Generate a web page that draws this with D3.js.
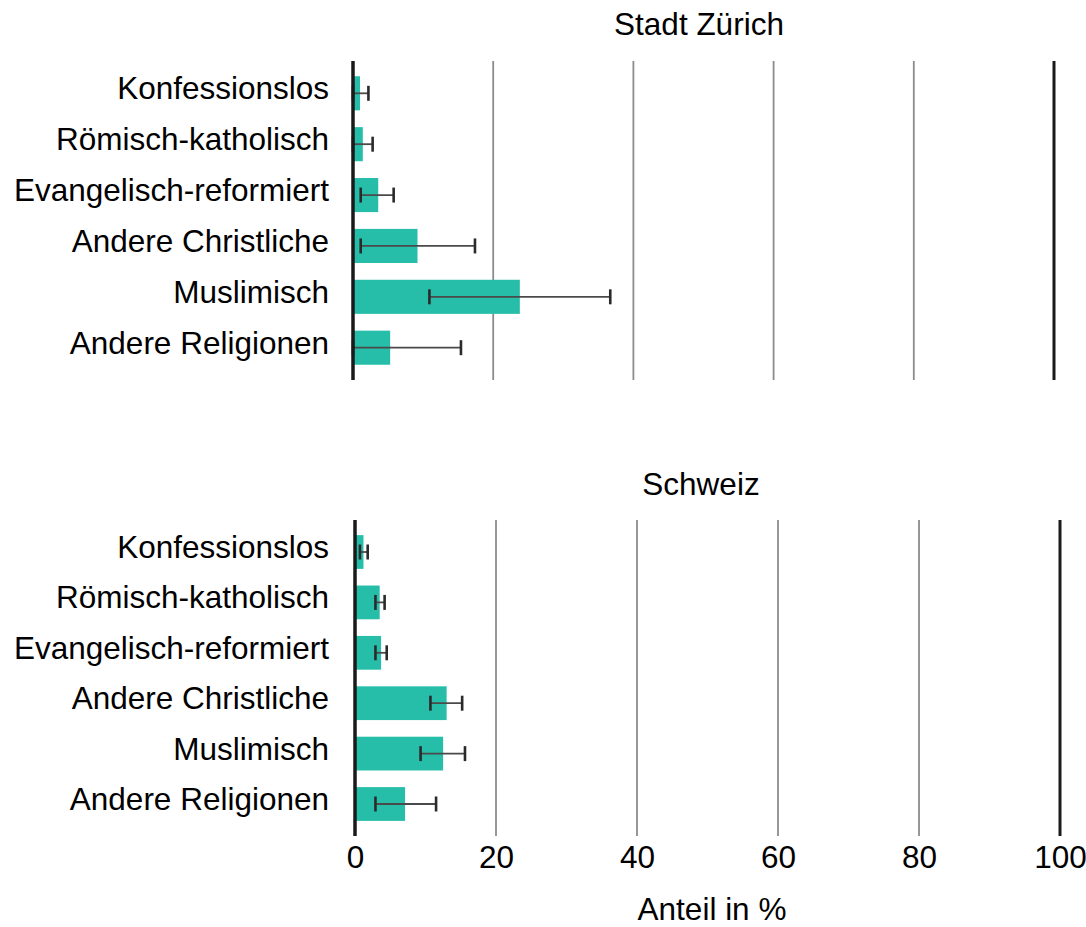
<!DOCTYPE html>
<html>
<head>
<meta charset="utf-8">
<script src="https://cdn.jsdelivr.net/npm/d3@7"></script>
<style>
  html, body { margin: 0; padding: 0; background: #fff; }
  svg { display: block; }
  text { font-family: "Liberation Sans", Arial, sans-serif; fill: #000; }
</style>
</head>
<body>
<svg id="chart" width="1086" height="927"></svg>
<script>
const categories = ["Konfessionslos", "Römisch-katholisch", "Evangelisch-reformiert", "Andere Christliche", "Muslimisch", "Andere Religionen"];
const panelTitles = ["Stadt Zürich", "Schweiz"];
const zurichValues = [1.0, 1.4, 3.6, 9.2, 23.8, 5.3];
const zurichLower  = [0, 0, 1.1, 1.1, 10.9, 0];
const zurichUpper  = [2.2, 2.8, 5.8, 17.4, 36.7, 15.4];
const schweizValues = [1.2, 3.5, 3.7, 13.0, 12.5, 7.1];
const schweizLower  = [0.7, 2.9, 2.9, 10.7, 9.3, 2.9];
const schweizUpper  = [1.8, 4.2, 4.5, 15.2, 15.6, 11.5];
const tickValues = [0, 20, 40, 60, 80, 100];
const xAxisTitle = "Anteil in %";

const svg = d3.select("#chart");
const FONT = 31.5;
const barColor = "#26bea9";

const panels = [
  { title: panelTitles[0], values: zurichValues, lower: zurichLower, upper: zurichUpper,
    x0: 353, x1: 1054, y0: 61, y1: 380, titleX: 699, titleY: 35, showTicks: false },
  { title: panelTitles[1], values: schweizValues, lower: schweizLower, upper: schweizUpper,
    x0: 355, x1: 1060, y0: 520, y1: 836, titleX: 701, titleY: 495, showTicks: true }
];

panels.forEach(p => {
  const data = categories.map((c, i) => ({ cat: c, v: p.values[i], lo: p.lower[i], hi: p.upper[i] }));
  const x = d3.scaleLinear().domain([0, 100]).range([p.x0, p.x1]);
  const y = d3.scaleBand().domain(categories).range([p.y0, p.y1]).paddingInner(0.33).paddingOuter(0.3);
  const g = svg.append("g");

  // gridlines
  g.selectAll("line.grid").data(tickValues.filter(t => t > 0 && t < 100)).join("line")
    .attr("class", "grid")
    .attr("x1", d => x(d)).attr("x2", d => x(d))
    .attr("y1", p.y0).attr("y2", p.y1)
    .attr("stroke", "#8c8c8c").attr("stroke-width", 1.8);

  // bars
  g.selectAll("rect.bar").data(data).join("rect")
    .attr("class", "bar")
    .attr("x", x(0)).attr("y", d => y(d.cat))
    .attr("width", d => x(d.v) - x(0)).attr("height", y.bandwidth())
    .attr("fill", barColor);

  // error bars
  const cap = 15;
  const eb = g.selectAll("g.err").data(data).join("g").attr("class", "err")
    .attr("transform", d => `translate(0,${y(d.cat) + y.bandwidth() / 2})`);
  eb.append("line")
    .attr("x1", d => x(d.lo)).attr("x2", d => x(d.hi))
    .attr("y1", 0).attr("y2", 0)
    .attr("stroke", "#4a4a4a").attr("stroke-width", 1.8);
  eb.append("line")
    .attr("x1", d => x(d.lo)).attr("x2", d => x(d.lo))
    .attr("y1", -cap / 2).attr("y2", cap / 2)
    .attr("stroke", "#2a2a2a").attr("stroke-width", 2.6);
  eb.append("line")
    .attr("x1", d => x(d.hi)).attr("x2", d => x(d.hi))
    .attr("y1", -cap / 2).attr("y2", cap / 2)
    .attr("stroke", "#2a2a2a").attr("stroke-width", 2.6);

  // 0 and 100 lines
  g.selectAll("line.edge").data([0, 100]).join("line")
    .attr("class", "edge")
    .attr("x1", d => x(d)).attr("x2", d => x(d))
    .attr("y1", p.y0).attr("y2", p.y1)
    .attr("stroke", "#1a1a1a").attr("stroke-width", d => d === 0 ? 3.5 : 3);

  // category labels
  g.selectAll("text.cat").data(categories).join("text")
    .attr("class", "cat")
    .attr("x", 329)
    .attr("y", d => y(d) + y.bandwidth() / 2 + 6)
    .attr("text-anchor", "end")
    .attr("font-size", FONT)
    .text(d => d);

  // title
  g.append("text")
    .attr("x", p.titleX).attr("y", p.titleY)
    .attr("text-anchor", "middle").attr("font-size", FONT)
    .text(p.title);

  if (p.showTicks) {
    const axis = d3.axisBottom(x).tickValues(tickValues).tickSize(0).tickPadding(0).tickFormat(d3.format("d"));
    const ax = svg.append("g").attr("transform", `translate(0,868)`).call(axis);
    ax.select(".domain").remove();
    ax.selectAll("text")
      .attr("dy", 0).attr("y", 0)
      .attr("font-size", FONT)
      .attr("font-family", "Liberation Sans, Arial, sans-serif")
      .attr("fill", "#000");
    svg.append("text")
      .attr("x", 712).attr("y", 920)
      .attr("text-anchor", "middle").attr("font-size", FONT)
      .text(xAxisTitle);
  }
});
</script>
</body>
</html>
